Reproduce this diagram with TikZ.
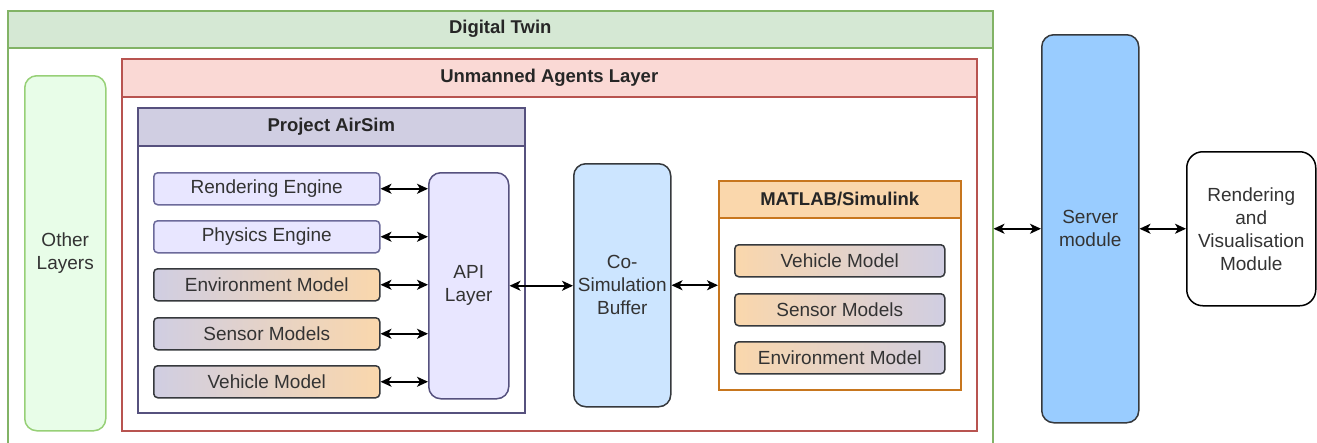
\documentclass[tikz,border=0pt]{standalone}
\usepackage{fontspec}
\setmainfont{Liberation Sans}
\usetikzlibrary{arrows.meta}
\definecolor{dtfill}{HTML}{D5E8D4}
\definecolor{dtline}{HTML}{82B366}
\definecolor{olfill}{HTML}{E8FDE8}
\definecolor{olline}{HTML}{97D077}
\definecolor{uafill}{HTML}{FAD9D5}
\definecolor{ualine}{HTML}{B85450}
\definecolor{asfill}{HTML}{D0CEE2}
\definecolor{asline}{HTML}{56517E}
\definecolor{lavfill}{HTML}{E8E6FF}
\definecolor{lavline}{HTML}{6C6A9A}
\definecolor{orfill}{HTML}{FAD7AC}
\definecolor{orline}{HTML}{C7761E}
\definecolor{darkline}{HTML}{36393D}
\definecolor{csfill}{HTML}{CCE5FF}
\definecolor{svfill}{HTML}{99CCFF}
\definecolor{txt}{HTML}{333333}
\tikzset{
  base/.style={draw, rectangle, anchor=north west, inner sep=0pt, align=center,
    text=txt, font=\fontsize{19}{23}\selectfont, line width=1.5pt},
  head/.style={base, font=\bfseries\fontsize{18.5}{23}\selectfont, text=black!85},
  rbox/.style={base, rounded corners=4pt},
  lav/.style={rbox, fill=lavfill, draw=lavline},
  gradpo/.style={rbox, draw=darkline, left color=asfill, right color=orfill},
  gradop/.style={rbox, draw=darkline, left color=orfill, right color=asfill},
  tall/.style={base, rounded corners=12pt},
  biarrow/.style={{Stealth[length=11pt,width=10pt,inset=3pt]}-{Stealth[length=11pt,width=10pt,inset=3pt]}, line width=1.6pt, black}
}
\begin{document}
\begin{tikzpicture}[x=1pt,y=-1pt]
\useasboundingbox (0,0) rectangle (1317,442);
% Digital Twin
\node[base, draw=dtline, fill=white, minimum width=985pt, minimum height=440pt] (dtbody) at (7,10) {};
\node[head, draw=dtline, fill=dtfill, minimum width=985pt, minimum height=37pt] (dthead) at (7,10) {Digital Twin};
% Other layers
\node[tall, draw=olline, fill=olfill, minimum width=81pt, minimum height=355pt] (other) at (24,75) {Other\\Layers};
% Unmanned Agents Layer
\node[base, draw=ualine, fill=white, minimum width=855pt, minimum height=372pt] (uabody) at (121,58) {};
\node[head, draw=ualine, fill=uafill, minimum width=855pt, minimum height=38pt] (uahead) at (121,58) {Unmanned Agents Layer};
% Project AirSim
\node[base, draw=asline, fill=white, minimum width=387pt, minimum height=305pt] (asbody) at (137,107) {};
\node[head, draw=asline, fill=asfill, minimum width=387pt, minimum height=38pt] (ashead) at (137,107) {Project AirSim};
\node[lav, minimum width=226pt, minimum height=32pt] (re) at (153,172) {Rendering Engine};
\node[lav, minimum width=226pt, minimum height=32pt] (pe) at (153,220) {Physics Engine};
\node[gradpo, minimum width=226pt, minimum height=32pt] (em) at (153,268) {Environment Model};
\node[gradpo, minimum width=226pt, minimum height=32pt] (sm) at (153,317) {Sensor Models};
\node[gradpo, minimum width=226pt, minimum height=32pt] (vm) at (153,365) {Vehicle Model};
\node[tall, draw=asline, fill=lavfill, minimum width=80pt, minimum height=226pt] (api) at (428,172) {API\\Layer};
% Co-simulation buffer
\node[tall, draw=darkline, fill=csfill, minimum width=97pt, minimum height=243pt] (cosim) at (573,163) {Co-\\Simulation\\Buffer};
% MATLAB/Simulink
\node[base, draw=orline, fill=white, minimum width=242pt, minimum height=209pt] (mlbody) at (718,180) {};
\node[head, draw=orline, fill=orfill, minimum width=242pt, minimum height=37pt] (mlhead) at (718,180) {MATLAB/Simulink};
\node[gradop, minimum width=210pt, minimum height=32pt] (mvm) at (734,244) {Vehicle Model};
\node[gradop, minimum width=210pt, minimum height=32pt] (msm) at (734,293) {Sensor Models};
\node[gradop, minimum width=210pt, minimum height=32pt] (mem) at (734,341) {Environment Model};
% Server and rendering
\node[tall, draw=darkline, fill=svfill, minimum width=97pt, minimum height=388pt] (server) at (1041,34) {Server\\module};
\node[base, rounded corners=16pt, draw=black, fill=white, minimum width=129pt, minimum height=154pt] (rv) at (1186,151) {Rendering\\and\\Visualisation\\Module};
% connectors
\foreach \n in {re,pe,em,sm,vm}
  \draw[biarrow] (\n.east) -- (\n.east -| api.west);
\draw[biarrow] (api.east) -- (api.east -| cosim.west);
\draw[biarrow] (cosim.east |- mlbody.west) -- (mlbody.west);
\draw[biarrow] (server.west -| dtbody.east) -- (server.west);
\draw[biarrow] (server.east) -- (server.east -| rv.west);
\end{tikzpicture}
\end{document}
